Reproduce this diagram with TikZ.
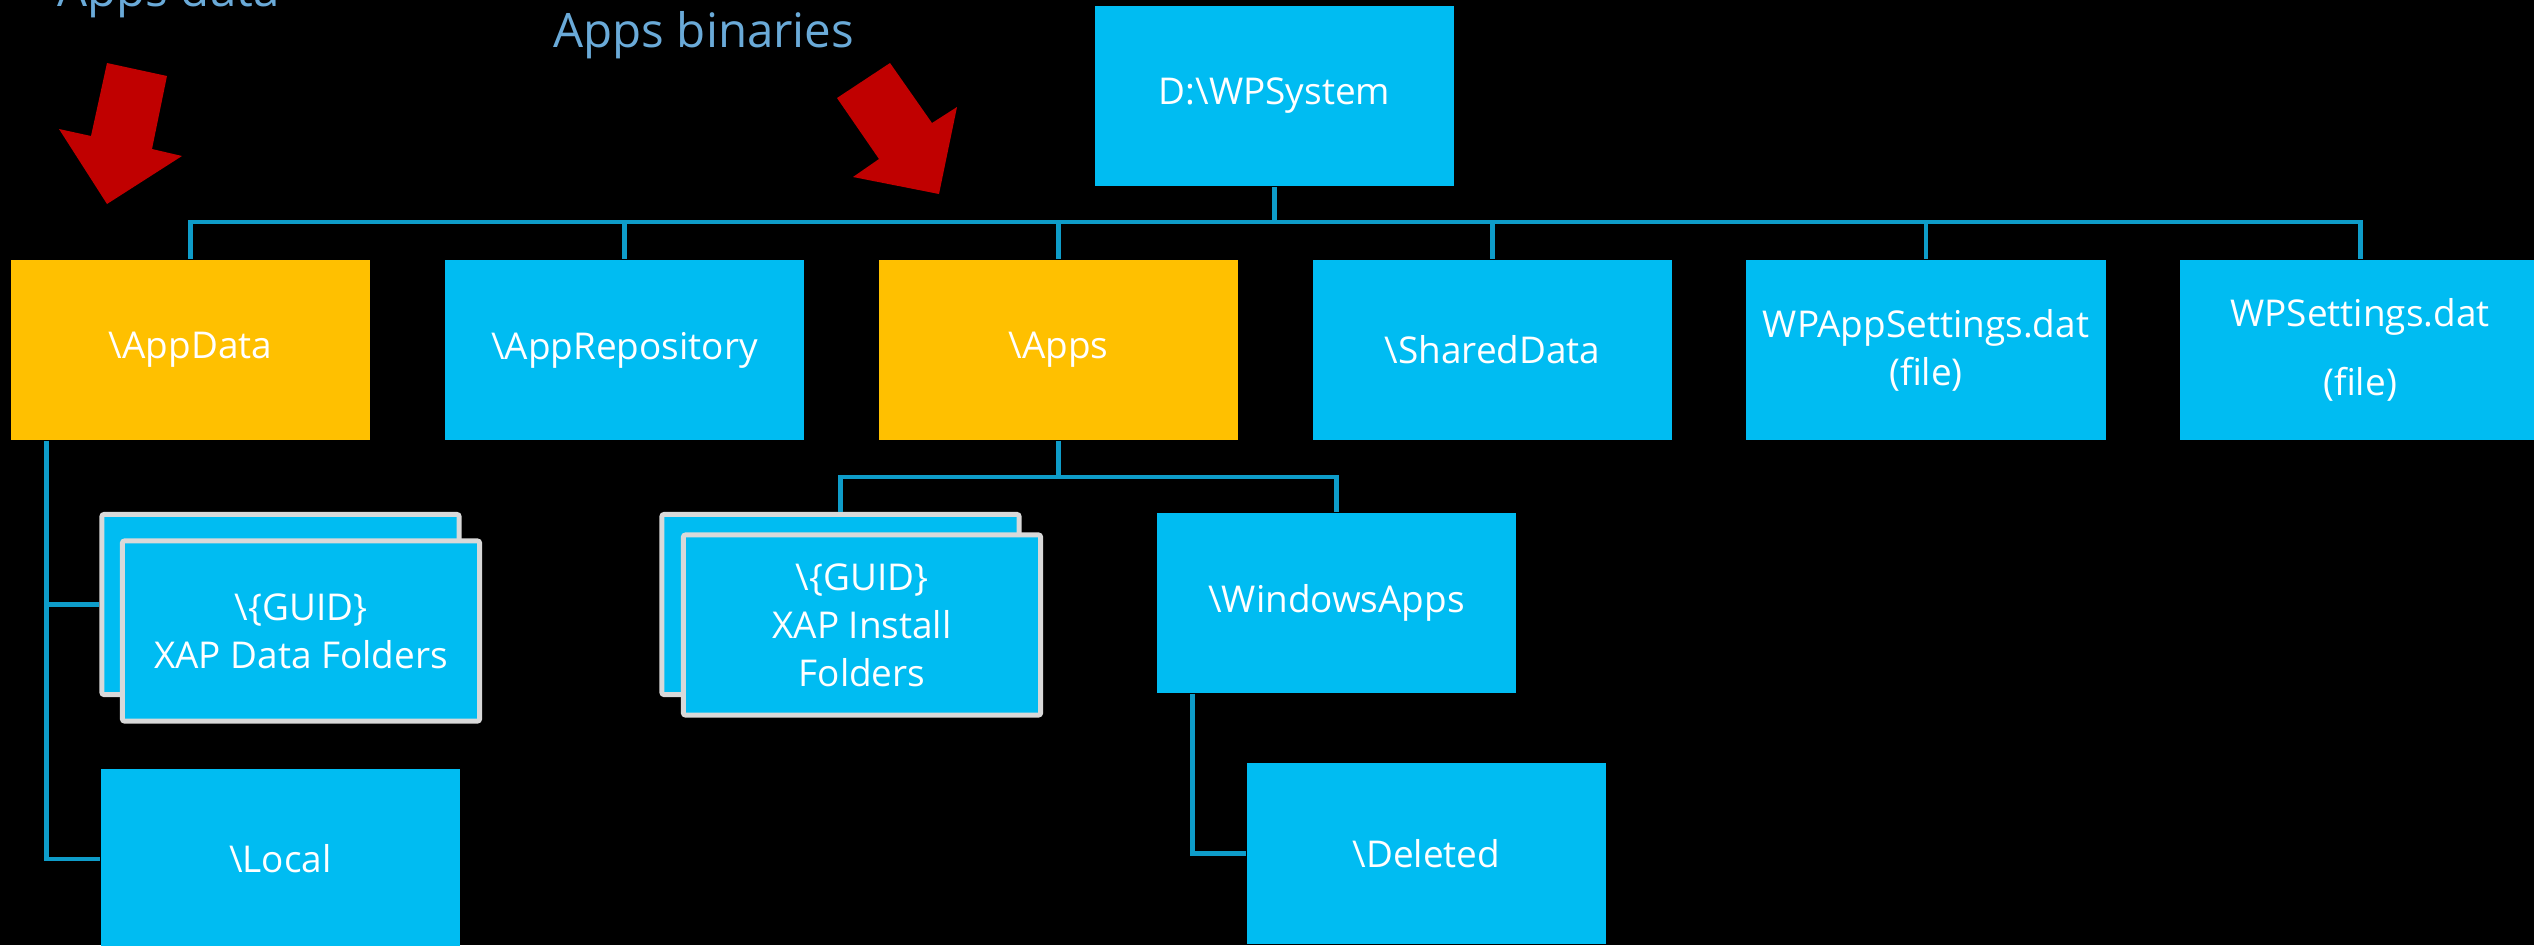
\documentclass[tikz,border=0pt]{standalone}
\usepackage{fontspec}
\setmainfont{Open Sans}
\usepackage{xcolor}
\usepackage{tikz}

\definecolor{tilecyan}{HTML}{00BCF2}
\definecolor{tileorange}{HTML}{FFC000}
\definecolor{linecyan}{HTML}{0E9CC9}
\definecolor{framegray}{HTML}{D9D9D9}
\definecolor{arrowred}{HTML}{C00000}
\definecolor{notecolor}{HTML}{6AAAD8}

\tikzset{
  tile/.style={fill=tilecyan, text=white, align=center, inner sep=0pt,
    minimum width=3.59cm, minimum height=1.80cm,
    font=\fontsize{10.5}{13.6}\selectfont},
  hottile/.style={tile, fill=tileorange},
  stacktile/.style={tile, draw=framegray, line width=1.4pt, rounded corners=0.6pt,
    minimum width=3.57cm, minimum height=1.80cm},
  conn/.style={draw=linecyan, line width=1.4pt},
  note/.style={text=notecolor, inner sep=0pt, font=\fontsize{13.5}{16}\selectfont}
}

\begin{document}
\begin{tikzpicture}[x=0.01cm, y=-0.01cm]
\fill[black] (0,0) rectangle (2534,945);
\useasboundingbox (0,0) rectangle (2534,945);

% top
\node[tile] (root) at (1274.5,96) {D:\textbackslash WPSystem};

% second row
\node[hottile] (appdata) at (190.5,350) {\textbackslash AppData};
\node[tile] (apprepo) at (624.5,350) {\textbackslash AppRepository};
\node[hottile] (apps) at (1058.5,350) {\textbackslash Apps};
\node[tile] (shared) at (1492.5,350) {\textbackslash SharedData};
\node[tile] (wpapp) at (1926,350) {WPAppSettings.dat\\(file)};
\node[tile] (wpset) at (2360,350) {WPSettings.dat\\[6pt](file)};

% under AppData
\node[stacktile] (databack) at (280.5,604.5) {};
\node[stacktile] (datafront) at (301,631) {\textbackslash\{GUID\}\\XAP Data Folders};
\node[tile] (local) at (280.5,859) {\textbackslash Local};

% under Apps
\node[stacktile] (instback) at (840.5,604.5) {};
\node[stacktile] (instfront) at (862,625) {\textbackslash\{GUID\}\\XAP Install\\Folders};
\node[tile] (winapps) at (1336.5,603) {\textbackslash WindowsApps};
\node[tile] (deleted) at (1426.5,853.5) {\textbackslash Deleted};

% notes and arrows
\node[note, anchor=base west] (datanote) at (57,6) {Apps data};
\node[note, anchor=base west] (binnote) at (553,47) {Apps binaries};
\fill[arrowred] (107,63) -- (167,76) -- (152,149) -- (182,156) -- (107,204)
  -- (59,129) -- (91,136) -- cycle;
\fill[arrowred] (890,63) -- (837,98) -- (879,159) -- (853,177) -- (939,194)
  -- (957,107) -- (932,123) -- cycle;

% top bus
\coordinate (bus) at (1274.5,222);
\draw[conn] (root) -- (bus);
\draw[conn] (bus) -| (appdata);
\draw[conn] (bus) -| (apprepo);
\draw[conn] (bus) -| (apps);
\draw[conn] (bus) -| (shared);
\draw[conn] (bus) -| (wpapp);
\draw[conn] (bus) -| (wpset);

% AppData down
\draw[conn] ([xshift=0.36cm]appdata.south west) |- (databack);
\draw[conn] ([xshift=0.36cm]appdata.south west) |- (local);

% Apps down
\coordinate (appsbus) at (1058.5,477);
\draw[conn] (apps) -- (appsbus) -| (instback);
\draw[conn] (appsbus) -| (winapps);
\draw[conn] ([xshift=0.36cm]winapps.south west) |- (deleted);
\end{tikzpicture}
\end{document}
